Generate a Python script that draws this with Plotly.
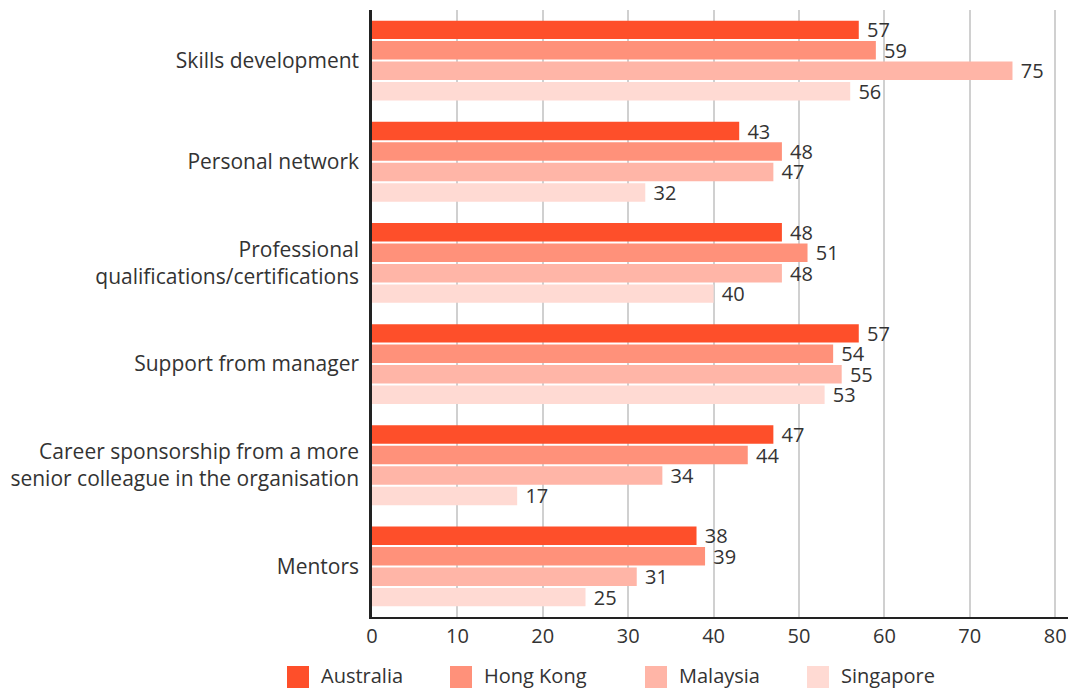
import plotly.graph_objects as go

categories = [
    "Skills development",
    "Personal network",
    "Professional<br>qualifications/certifications",
    "Support from manager",
    "Career sponsorship from a more<br>senior colleague in the organisation",
    "Mentors",
]
series_names = ["Australia", "Hong Kong", "Malaysia", "Singapore"]
australia = [57, 43, 48, 57, 47, 38]
hong_kong = [59, 48, 51, 54, 44, 39]
malaysia = [75, 47, 48, 55, 34, 31]
singapore = [56, 32, 40, 53, 17, 25]
series_values = [australia, hong_kong, malaysia, singapore]
colors = ["#FE4F2A", "#FF917A", "#FFB5A7", "#FFDAD3"]
x_ticks = [0, 10, 20, 30, 40, 50, 60, 70, 80]

FONT = "Open Sans, sans-serif"
TEXT_COLOR = "#333333"
FS = 21

W, H = 1068, 690
ML, MR, MT, MB = 372, 0, 10, 73

fig = go.Figure()
for name, vals, col in zip(series_names, series_values, colors):
    fig.add_trace(go.Bar(
        y=categories, x=vals, orientation="h", name=name,
        marker=dict(color=col, line=dict(width=0)),
        text=vals, texttemplate="\u00a0%{x}", textposition="outside",
        constraintext="none",
        textfont=dict(size=20, color=TEXT_COLOR, family=FONT),
        cliponaxis=False, showlegend=False,
    ))

# Hand-built legend row below the axis: square swatch + label per series
plot_w = W - ML - MR
plot_h = H - MT - MB
swatch_left_px = [287, 450, 645, 807]
swatch_px = 22
legend_center_px = 677


def px_to_paper_x(px):
    return (px - ML) / plot_w


def px_to_paper_y(py):
    return (H - MB - py) / plot_h


for name, col, left in zip(series_names, colors, swatch_left_px):
    fig.add_shape(
        type="rect", xref="paper", yref="paper",
        x0=px_to_paper_x(left), x1=px_to_paper_x(left + swatch_px),
        y0=px_to_paper_y(legend_center_px + swatch_px / 2),
        y1=px_to_paper_y(legend_center_px - swatch_px / 2),
        fillcolor=col, line=dict(width=0), layer="above",
    )
    fig.add_annotation(
        text=name, xref="paper", yref="paper",
        x=px_to_paper_x(left + swatch_px + 11), xanchor="left",
        y=px_to_paper_y(legend_center_px - 1), yanchor="middle",
        showarrow=False, font=dict(size=20, color=TEXT_COLOR, family=FONT),
        borderpad=0,
    )

fig.update_layout(
    width=W, height=H,
    margin=dict(l=ML, r=MR, t=MT, b=MB),
    paper_bgcolor="white", plot_bgcolor="white",
    barmode="group", bargap=0.19, bargroupgap=0.1,
    font=dict(family=FONT, size=FS, color=TEXT_COLOR),
    showlegend=False,
    xaxis=dict(
        range=[0, 81.5], tickvals=x_ticks, showgrid=True,
        gridcolor="#D0D0D0", gridwidth=1.5, zeroline=False,
        showline=True, linecolor="#222222", linewidth=2,
        tickfont=dict(size=20, color=TEXT_COLOR),
        ticks="", ticklabelstandoff=0,
    ),
    yaxis=dict(
        autorange="reversed", showgrid=False, zeroline=False,
        showline=True, linecolor="#222222", linewidth=2.5,
        tickfont=dict(size=FS, color=TEXT_COLOR),
        ticks="", ticklabelstandoff=6,
    ),
)

fig.write_html("out.html")
